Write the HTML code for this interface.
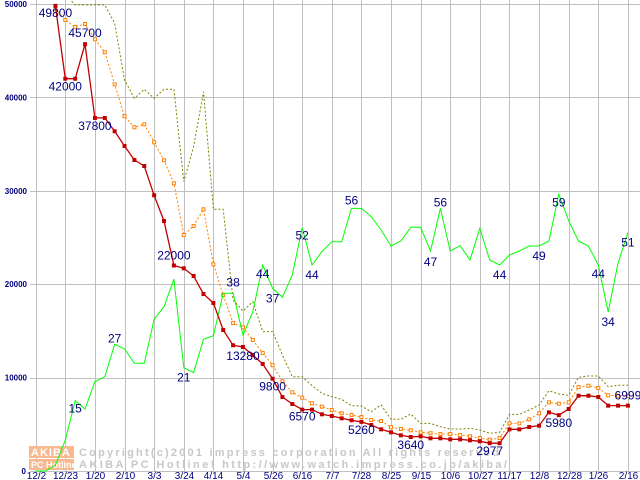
<!DOCTYPE html>
<html><head><meta charset="utf-8"><style>
body{margin:0;background:#fff;}
svg{display:block;}
text{font-family:"Liberation Sans",sans-serif;}
</style></head><body>
<svg id="chart" width="640" height="480" viewBox="0 0 640 480" xmlns="http://www.w3.org/2000/svg">
<defs><clipPath id="clip"><rect x="30" y="0" width="610" height="472"/></clipPath></defs>
<g id="grid"></g>
<g id="watermark">
<rect x="29" y="446" width="45" height="12" fill="#f8b890"/>
<rect x="29" y="459" width="45" height="11" fill="#f8b890"/>
<text x="31" y="456" font-size="11" font-weight="bold" fill="#fff" font-family="Liberation Mono,monospace" letter-spacing="1">AKIBA</text>
<text x="31" y="468" font-size="9" font-weight="bold" fill="#fff" font-family="Liberation Mono,monospace">PC Hotline!</text>
<text x="79" y="456" font-size="11" font-weight="bold" fill="#c8c8c8" font-family="Liberation Mono,monospace" textLength="420">Copyright(c)2001 impress corporation All rights reserved</text>
<text x="79" y="468" font-size="11" font-weight="bold" fill="#c8c8c8" font-family="Liberation Mono,monospace" textLength="428">AKIBA PC Hotline!  http://www.watch.impress.co.jp/akiba/</text>
</g>
<g id="series" clip-path="url(#clip)"></g>
<g id="labels"></g>
<g id="axes"></g>
</svg>
<script>
const xTickLabels=["12/2","12/23","1/20","2/10","3/3","3/24","4/14","5/4","5/26","6/16","7/7","7/28","8/25","9/15","10/6","10/27","11/17","12/8","12/28","1/26","2/16"];
const yTickValues=[0,10000,20000,30000,40000,50000];
const redPrice=[null,null,49800,42000,42000,45700,37800,37800,36370,34800,33300,32650,29520,26770,22000,21700,20880,18950,17990,15100,13460,13280,12420,11460,9880,7920,7170,6570,6570,6070,5890,5640,5430,5260,4930,4460,4140,3820,3640,3710,3500,3500,3390,3390,3290,3180,2977,2977,4460,4460,4710,4850,6280,5980,6640,8060,8060,7920,6999,6999,6999];
const orangePrice=[null,null,49500,48290,47540,47860,46220,44830,41400,37980,36800,37120,35190,33270,30800,25270,26230,28020,22130,18840,15850,15390,14030,12630,11320,9600,8430,7850,7250,6890,6530,6180,6000,5780,5460,5350,4680,4500,4360,4140,4040,3960,3960,3850,3710,3530,3350,3530,5100,5100,5530,6180,7350,7210,7350,8990,9130,8890,8100,8060,8030];
const olivePrice=[null,null,50500,51000,49900,49900,49900,49900,47930,41870,39900,40870,39900,40870,40870,30980,34720,40610,28020,28020,18310,17130,18130,14920,14920,12420,10100,10100,9130,8320,7960,7680,6990,6960,6350,7070,5530,5530,6100,5100,5100,4740,4500,4500,4570,4390,4040,4140,6060,6060,6530,7070,8600,8240,8100,10030,10170,10170,9030,9180,9180];
const greenCount=[0,0,640,3320,7530,6640,9560,10100,13570,13060,11530,11530,16240,17590,20530,11060,10530,14100,14490,19030,19030,14560,17060,22060,19560,18600,20990,26050,22060,23490,24550,24550,28120,28120,27230,25800,24090,24630,26090,26090,23550,28120,23550,24130,22590,25980,22590,22060,23130,23550,24090,24090,24630,29630,26800,24630,24090,22060,17020,22240,25520];
const redLabelIdx=[2,3,5,6,14,21,24,27,33,38,46,53,60];
const redLabelText=["49800","42000","45700","37800","22000","13280","9800","6570","5260","3640","2977","5980","6999"];
const redLabelDy=[11,12,-7,12,-6,13,12,11,12,12,12,12,-6];
const greenLabelIdx=[4,8,15,20,23,24,27,28,32,40,41,47,51,53,57,58,60];
const greenLabelText=["15","27","21","38","44","37","52","44","56","47","56","44","49","59","44","34","51"];
const greenLabelDy=[12,-2,14,-7,13,14,12,14,-4,15,-2,14,14,12,13,14,14];

const NS="http://www.w3.org/2000/svg";
function X(i){return 35.7+i*9.87;}
function Y(v){return 471-v*467/50000;}
function mk(tag,attrs,parent){const e=document.createElementNS(NS,tag);for(const k in attrs)e.setAttribute(k,attrs[k]);parent.appendChild(e);return e;}
const grid=document.getElementById('grid'),axes=document.getElementById('axes'),series=document.getElementById('series'),labels=document.getElementById('labels');
yTickValues.forEach(v=>{
 const l=mk('line',{x1:30,x2:640,y1:Math.round(Y(v))+0.5,y2:Math.round(Y(v))+0.5,stroke:'#c0c0c0','stroke-width':1},grid);
 
 
 const t=mk('text',{x:v===0?26:27,y:Y(v)+3,'text-anchor':'end','font-size':8,'font-weight':'bold',fill:'#000080'},axes);
 t.textContent=v;
 
 
});
xTickLabels.forEach((s,k)=>{
 const x=Math.round(X(k*3))+0.5;
 const l=mk('line',{x1:x,x2:x,y1:0,y2:471,stroke:'#c0c0c0','stroke-width':1},grid);
 
 
 const t=mk('text',{x:x,y:479,'text-anchor':'middle','font-size':10,fill:'#000080'},axes);
 t.textContent=s;
 
 
});
function pts(arr){return arr.map((v,i)=>v==null?null:[X(i),Y(v)]).filter(p=>p);}
function line(arr,color,dash,name,w){
 const p=pts(arr);
 const pl=mk('polyline',{points:p.map(q=>q[0].toFixed(1)+','+q[1].toFixed(1)).join(' '),fill:'none',stroke:color,'stroke-width':w||1,'stroke-dasharray':dash||'none'},series);
 
 
 return p;
}
line(olivePrice,'#808000','2,2','olive-price-line');
const op=line(orangePrice,'#ff8000','2,2','orange-price-line');
op.forEach(q=>{
 const r=mk('rect',{x:q[0]-1.5,y:q[1]-1.5,width:3,height:3,fill:'#fff',stroke:'#ff8000','stroke-width':1},series);
 
 
});
line(greenCount,'#00ff00',null,'green-count-line');
const rp=line(redPrice,'#c00000',null,'red-price-line',1.3);
rp.forEach(q=>{
 const r=mk('rect',{x:q[0]-2,y:q[1]-2,width:4,height:4,fill:'#c00000'},series);
 
 
});
redLabelIdx.forEach((i,k)=>{
 const t=mk('text',{x:X(i),y:Y(redPrice[i])+redLabelDy[k]+(redLabelDy[k]>0?0:0),'text-anchor':'middle','font-size':12,fill:'#000080'},labels);
 t.textContent=redLabelText[k];
 
 
});
greenLabelIdx.forEach((i,k)=>{
 const t=mk('text',{x:X(i),y:Y(greenCount[i])+greenLabelDy[k],'text-anchor':'middle','font-size':12,fill:'#000080'},labels);
 t.textContent=greenLabelText[k];
 
 
});
</script>
</body></html>
